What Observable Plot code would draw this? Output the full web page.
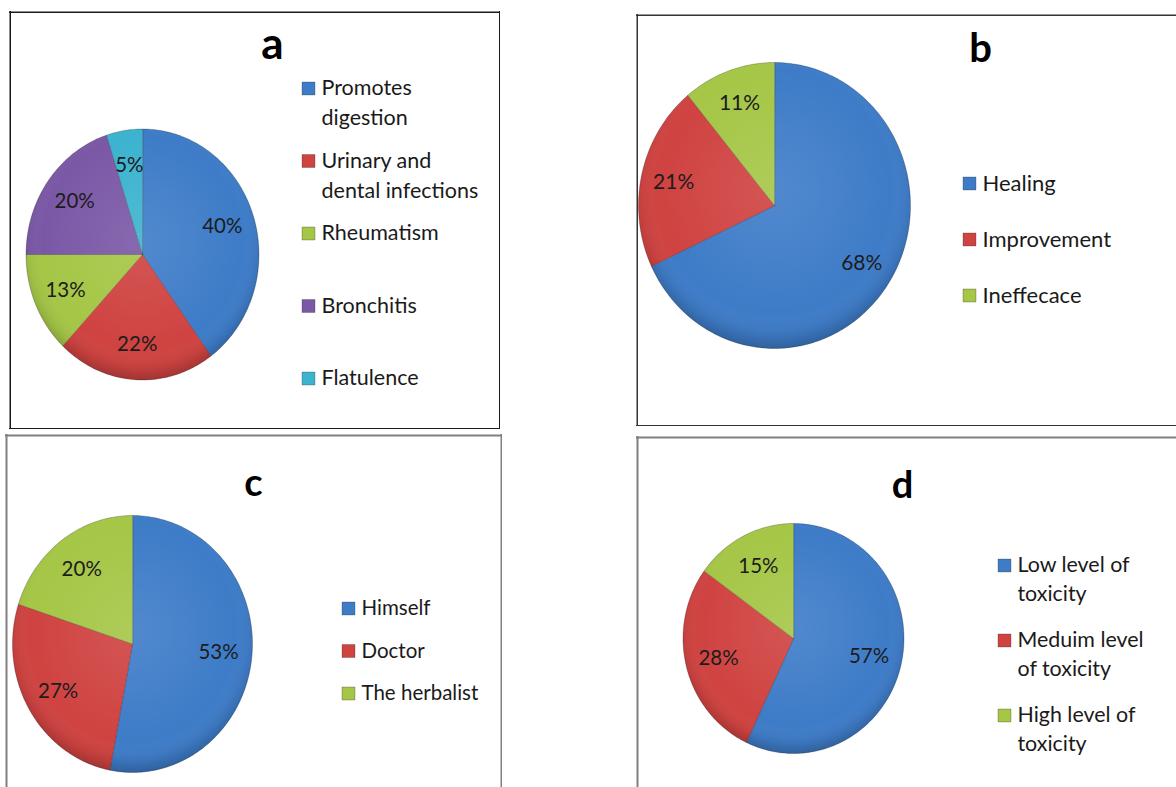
<!DOCTYPE html>
<html><head><meta charset="utf-8">
<script src="https://cdn.jsdelivr.net/npm/d3@7"></script>
<script src="https://cdn.jsdelivr.net/npm/@observablehq/plot@0.6"></script>
<style>
html,body{margin:0;padding:0;background:#fff;overflow:hidden;}
#root{position:relative;width:1176px;height:787px;overflow:hidden;background:#fff;}
.panel{position:absolute;overflow:hidden;}
.panel svg{display:block;max-width:none !important;}
</style></head><body>
<svg width="0" height="0" style="position:absolute">
<defs>
<radialGradient id="shade" cx="50%" cy="45%" r="55%">
 <stop offset="0%" stop-color="#fff" stop-opacity="0.10"/>
 <stop offset="78%" stop-color="#fff" stop-opacity="0"/>
 <stop offset="92%" stop-color="#000" stop-opacity="0.07"/>
 <stop offset="100%" stop-color="#000" stop-opacity="0.22"/>
</radialGradient>
</defs></svg>
<div id="root"></div>
<script>
// ---- data ----
const aTitle = "a";
const aCategories = ["Promotes\ndigestion", "Urinary and\ndental infections", "Rheumatism", "Bronchitis", "Flatulence"];
const aValues = [40, 22, 13, 20, 5];

const bTitle = "b";
const bCategories = ["Healing", "Improvement", "Ineffecace"];
const bValues = [68, 21, 11];

const cTitle = "c";
const cCategories = ["Himself", "Doctor", "The herbalist"];
const cValues = [53, 27, 20];

const dTitle = "d";
const dCategories = ["Low level of\ntoxicity", "Meduim level\nof toxicity", "High level of\ntoxicity"];
const dValues = [57, 28, 15];

const palette = ["#3E7CC8", "#CF4341", "#A5C646", "#7B58A6", "#3CB3CF"];

// ---- helpers ----
function slicePoints(cats, vals, cx, cy, rx, ry) {
  const total = d3.sum(vals);
  const pts = [];
  let acc = 0;
  cats.forEach((c, i) => {
    const a0 = acc / total * 2 * Math.PI; acc += vals[i];
    const a1 = acc / total * 2 * Math.PI;
    const n = Math.max(2, Math.ceil((a1 - a0) / 0.02));
    pts.push({cat: c, x: cx, y: cy});
    for (let k = 0; k <= n; k++) {
      const t = a0 + (a1 - a0) * k / n;
      pts.push({cat: c, x: cx + rx * Math.sin(t), y: cy - ry * Math.cos(t)});
    }
  });
  return pts;
}
function outlinePoints(cx, cy, rx, ry) {
  return d3.range(0, 361, 2).map(d => {
    const t = d * Math.PI / 180;
    return {x: cx + rx * Math.sin(t), y: cy - ry * Math.cos(t)};
  });
}
function labelPoints(cats, vals, cx, cy, rx, ry, f) {
  const total = d3.sum(vals);
  let acc = 0;
  return cats.map((c, i) => {
    const mid = (acc + vals[i] / 2) / total * 2 * Math.PI; acc += vals[i];
    return {cat: c, text: Math.round(vals[i] / total * 100) + "%", x: cx + f * rx * Math.sin(mid), y: cy - f * ry * Math.cos(mid)};
  });
}

function panel(cfg) {
  const {title, cats, vals, left, top, W, H, sides, cx, cy, rx, ry, lf, border, bw,
    legX, legY0, legDy, legFs, lblFs, lineGap, titleX, titleBase, titleFs} = cfg;
  const colors = palette.slice(0, cats.length);
  const legend = cats.map((c, i) => ({cat: c, x: legX, y: legY0 + i * legDy}));
  const legendLines = legend.flatMap(d => d.cat.split("\n").map((t, j) => ({text: t, x: d.x, y: d.y + j * lineGap})));
  const h = bw / 2;
  const borderMarks = [];
  if (sides.includes("t")) borderMarks.push(Plot.ruleY([h], {x1: 0, x2: W, stroke: border, strokeWidth: bw}));
  if (sides.includes("b")) borderMarks.push(Plot.ruleY([H - h], {x1: 0, x2: W, stroke: border, strokeWidth: bw}));
  if (sides.includes("l")) borderMarks.push(Plot.ruleX([h], {y1: 0, y2: H, stroke: border, strokeWidth: bw}));
  if (sides.includes("r")) borderMarks.push(Plot.ruleX([W - h], {y1: 0, y2: H, stroke: border, strokeWidth: bw}));
  const plot = Plot.plot({
    width: W, height: H, margin: 0,
    x: {domain: [0, W], range: [0, W], axis: null},
    y: {domain: [0, H], range: [0, H], axis: null},
    color: {domain: cats, range: colors},
    style: {fontFamily: "Lato, 'Open Sans', sans-serif", background: "transparent"},
    marks: [
      ...borderMarks,
      Plot.line(slicePoints(cats, vals, cx, cy, rx, ry), {x: "x", y: "y", z: "cat", fill: "cat", stroke: "rgba(0,0,0,0.28)", strokeWidth: 0.8, curve: "linear-closed"}),
      Plot.line(outlinePoints(cx, cy, rx, ry), {x: "x", y: "y", fill: "url(#shade)", stroke: "none", curve: "linear-closed"}),
      Plot.text(labelPoints(cats, vals, cx, cy, rx, ry, lf), {x: "x", y: "y", text: "text", fontSize: lblFs, fill: "#1c1c1c"}),
      Plot.dot(legend, {x: d => d.x - 13, y: "y", symbol: "square", r: 7.3, fill: "cat", stroke: "rgba(0,0,0,0.35)", strokeWidth: 0.7}),
      Plot.text(legendLines, {x: "x", y: "y", text: "text", textAnchor: "start", fontSize: legFs, fill: "#1a1a1a"}),
      Plot.text([title], {x: () => titleX, y: () => titleBase - 0.32 * titleFs, text: d => d, fontSize: titleFs, fontWeight: "bold", fill: "#000"})
    ]
  });
  const div = document.createElement("div");
  div.className = "panel";
  div.style.left = left + "px";
  div.style.top = top + "px";
  div.style.width = W + "px";
  div.style.height = H + "px";
  div.appendChild(plot);
  document.getElementById("root").appendChild(div);
}

panel({title: aTitle, cats: aCategories, vals: aValues, left: 9, top: 11, W: 491, H: 418, sides: "tlbr",
  cx: 133, cy: 243, rx: 116.5, ry: 125.5, lf: 0.72, border: "#1a1a1a", bw: 1.5,
  legX: 312, legY0: 77, legDy: 72.5, legFs: 21.5, lblFs: 20.5, lineGap: 30, titleX: 263, titleBase: 47, titleFs: 44});

panel({title: bTitle, cats: bCategories, vals: bValues, left: 636, top: 14, W: 540, H: 412, sides: "tlb",
  cx: 138, cy: 191, rx: 136, ry: 143, lf: 0.76, border: "#333", bw: 1.5,
  legX: 346, legY0: 169, legDy: 56, legFs: 22, lblFs: 21, lineGap: 30, titleX: 344, titleBase: 47, titleFs: 40});

panel({title: cTitle, cats: cCategories, vals: cValues, left: 5, top: 434, W: 497, H: 353, sides: "tlr",
  cx: 127, cy: 209.5, rx: 120, ry: 128.5, lf: 0.72, border: "#808080", bw: 2,
  legX: 356, legY0: 174, legDy: 42.5, legFs: 20.5, lblFs: 20.5, lineGap: 30, titleX: 248, titleBase: 61, titleFs: 38});

panel({title: dTitle, cats: dCategories, vals: dValues, left: 636, top: 436, W: 540, H: 351, sides: "tl",
  cx: 157, cy: 202, rx: 110.5, ry: 115, lf: 0.7, border: "#808080", bw: 2,
  legX: 381, legY0: 129, legDy: 75, legFs: 21.4, lblFs: 20.5, lineGap: 29, titleX: 266, titleBase: 61, titleFs: 38});
</script>
</body></html>
